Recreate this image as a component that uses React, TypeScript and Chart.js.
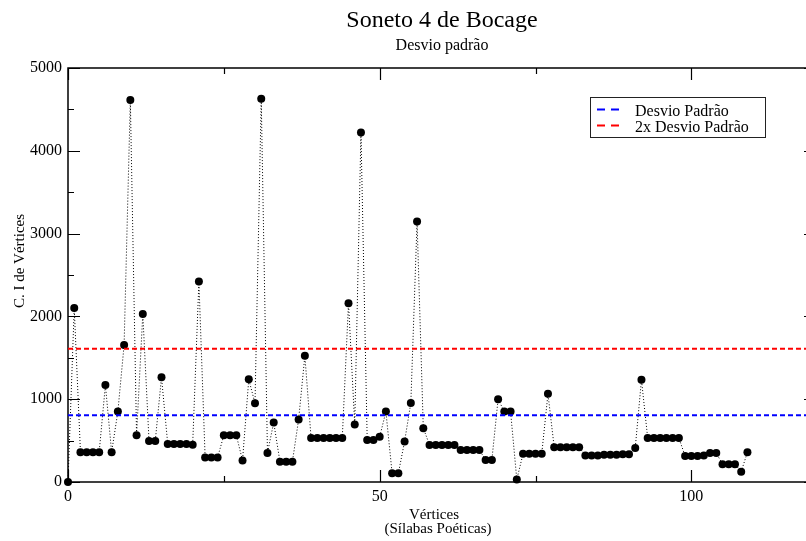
import { useEffect, useRef } from 'react';
import { Chart, registerables } from 'chart.js';

Chart.register(...registerables);

// Centralidade de intermediação (C. I) de cada vértice do soneto
const ciValues = [
  0, 2100, 360, 360, 360, 360, 1170, 360, 850, 1655,
  4615, 565, 2030, 495, 495, 1265, 460, 460, 460, 460,
  450, 2420, 295, 295, 295, 565, 565, 565, 260, 1240,
  950, 4630, 350, 720, 245, 245, 245, 755, 1525, 530,
  530, 530, 530, 530, 530, 2160, 695, 4220, 508, 508,
  545, 850, 105, 105, 490, 955, 3145, 650, 448, 448,
  448, 448, 448, 387, 387, 387, 387, 266, 266, 1000,
  850, 850, 30, 340, 340, 340, 340, 1065, 420, 420,
  420, 420, 420, 320, 320, 320, 330, 330, 330, 335,
  335, 410, 1235, 530, 530, 530, 530, 530, 530, 315,
  315, 315, 320, 350, 350, 215, 215, 215, 125, 360,
];

const desvioPadrao = 805;
const doisDesvios = 1610;

const xRange = [0, 120];
const yRange = [0, 5000];
const xMajorTicks = [0, 50, 100];
const xMinorTicks = [25, 75];
const yMajorTicks = [0, 1000, 2000, 3000, 4000, 5000];
const yMinorTicks = [500, 1500, 2500, 3500, 4500];

const titleText = 'Soneto 4 de Bocage';
const subtitleText = 'Desvio padrão';
const xTitleLines = ['Vértices', '(Sílabas Poéticas)'];
const yTitleText = 'C. I de Vértices';
const legendLabels = ['Desvio Padrão', '2x Desvio Padrão'];

const SERIF = "'Liberation Serif', 'DejaVu Serif', 'Times New Roman', serif";

const decorPlugin = {
  id: 'decor',
  beforeDatasetsDraw(chart: any) {
    const { ctx, chartArea } = chart;
    const xs = chart.scales.x;
    const ys = chart.scales.y;
    const { left, right, top, bottom } = chartArea;
    ctx.save();
    ctx.strokeStyle = '#000';
    ctx.lineWidth = 1.5;
    ctx.strokeRect(left, top, right - left, bottom - top);
    ctx.lineWidth = 1.2;
    const major = 12;
    const minor = 6;
    ctx.beginPath();
    const xt = (v: number, len: number) => {
      const p = Math.round(xs.getPixelForValue(v)) + 0.5;
      ctx.moveTo(p, bottom);
      ctx.lineTo(p, bottom - len);
      ctx.moveTo(p, top);
      ctx.lineTo(p, top + len);
    };
    const yt = (v: number, len: number) => {
      const p = Math.round(ys.getPixelForValue(v)) + 0.5;
      ctx.moveTo(left, p);
      ctx.lineTo(left + len, p);
      ctx.moveTo(right, p);
      ctx.lineTo(right - len, p);
    };
    xMajorTicks.forEach((v) => xt(v, major));
    xMinorTicks.forEach((v) => xt(v, minor));
    yMajorTicks.forEach((v) => yt(v, major));
    yMinorTicks.forEach((v) => yt(v, minor));
    ctx.stroke();
    ctx.restore();
  },
  afterDraw(chart: any) {
    const { ctx, chartArea } = chart;
    const { left, right, top, bottom } = chartArea;
    const cx = (left + right) / 2;
    ctx.save();
    ctx.fillStyle = '#000';
    ctx.textAlign = 'center';
    ctx.textBaseline = 'alphabetic';
    ctx.font = `24px ${SERIF}`;
    ctx.fillText(titleText, cx, 27);
    ctx.font = `16px ${SERIF}`;
    ctx.fillText(subtitleText, cx, 50);

    // axis titles
    ctx.font = `15px ${SERIF}`;
    ctx.fillText(xTitleLines[0], 434, 519);
    ctx.fillText(xTitleLines[1], 438, 533);
    ctx.save();
    ctx.translate(24, (top + bottom) / 2);
    ctx.rotate(-Math.PI / 2);
    ctx.fillText(yTitleText, 14, 0);
    ctx.restore();

    // legend
    const ds = chart.data.datasets;
    ctx.strokeStyle = '#222';
    ctx.lineWidth = 1;
    ctx.strokeRect(590.5, 97.5, 175, 40);
    const rows = [
      { y: 109.5, color: ds[0].borderColor, label: legendLabels[0] },
      { y: 125.5, color: ds[1].borderColor, label: legendLabels[1] },
    ];
    ctx.textAlign = 'left';
    ctx.font = `16px ${SERIF}`;
    rows.forEach((r) => {
      ctx.strokeStyle = r.color;
      ctx.lineWidth = 2;
      ctx.setLineDash([8, 6]);
      ctx.beginPath();
      ctx.moveTo(597, r.y);
      ctx.lineTo(624, r.y);
      ctx.stroke();
      ctx.setLineDash([]);
      ctx.fillStyle = '#000';
      ctx.fillText(r.label, 635, r.y + 6);
    });
    ctx.restore();
  },
};

export default function App() {
  const canvasRef = useRef<HTMLCanvasElement | null>(null);

  useEffect(() => {
    const canvas = canvasRef.current;
    if (!canvas) return;
    const points = ciValues.map((v, i) => ({ x: i, y: v }));
    const chart = new Chart(canvas, {
      type: 'line',
      data: {
        datasets: [
          {
            label: legendLabels[0],
            data: [
              { x: xRange[0], y: desvioPadrao },
              { x: xRange[1], y: desvioPadrao },
            ],
            borderColor: '#0000ff',
            borderWidth: 2,
            borderDash: [5, 3],
            pointRadius: 0,
            fill: false,
          },
          {
            label: legendLabels[1],
            data: [
              { x: xRange[0], y: doisDesvios },
              { x: xRange[1], y: doisDesvios },
            ],
            borderColor: '#ff0000',
            borderWidth: 2,
            borderDash: [5, 3],
            pointRadius: 0,
            fill: false,
          },
          {
            label: 'C. I',
            data: points,
            borderColor: '#000',
            borderWidth: 1,
            borderDash: [1, 2],
            pointRadius: 4,
            pointBackgroundColor: '#000',
            pointBorderColor: '#000',
            pointBorderWidth: 0,
            tension: 0,
            fill: false,
            clip: false,
          },
        ],
      },
      options: {
        responsive: false,
        animation: false,
        devicePixelRatio: 1,
        layout: { padding: { top: 68, right: 14, left: 0, bottom: 0 } },
        plugins: {
          legend: { display: false },
          title: { display: false },
          tooltip: { enabled: false },
        },
        scales: {
          x: {
            type: 'linear',
            min: xRange[0],
            max: xRange[1],
            grid: { display: false, drawTicks: false },
            border: { display: false },
            ticks: {
              stepSize: 50,
              includeBounds: false,
              padding: 5,
              color: '#000',
              font: { family: SERIF, size: 16 },
              maxRotation: 0,
              callback: (v: any) => (xMajorTicks.includes(Number(v)) ? String(v) : ''),
            },
            afterFit: (s: any) => {
              s.height = 59;
            },
          },
          y: {
            type: 'linear',
            min: yRange[0],
            max: yRange[1],
            grid: { display: false, drawTicks: false },
            border: { display: false },
            ticks: {
              stepSize: 1000,
              padding: 6,
              color: '#000',
              font: { family: SERIF, size: 16 },
              callback: (v: any) => String(v),
            },
            afterFit: (s: any) => {
              s.width = 68;
            },
          },
        },
      },
      plugins: [decorPlugin],
    });
    return () => chart.destroy();
  }, []);

  return (
    <div
      style={{
        position: 'fixed',
        left: 0,
        top: 0,
        width: 806,
        height: 541,
        overflow: 'hidden',
        background: '#fff',
      }}
    >
      <canvas ref={canvasRef} width={830} height={541} style={{ width: 830, height: 541, display: 'block' }} />
    </div>
  );
}
